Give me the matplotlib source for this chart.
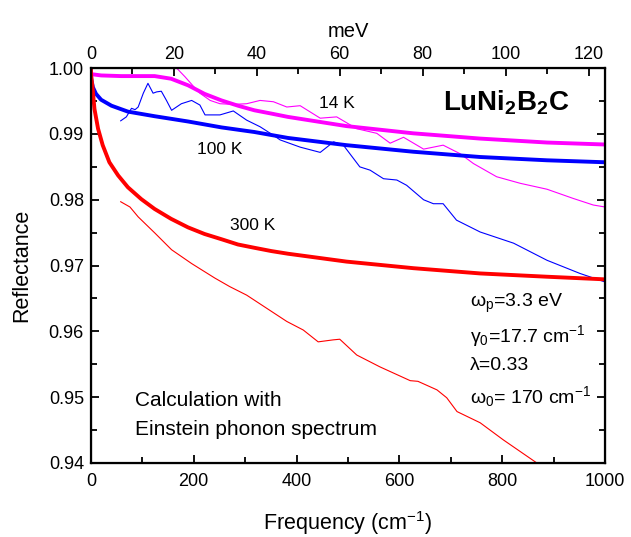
import numpy as np
import matplotlib
matplotlib.use("Agg")
import matplotlib.pyplot as plt
from matplotlib.ticker import MultipleLocator, FormatStrFormatter

plt.rcParams['font.family'] = ['Liberation Sans', 'DejaVu Sans']
plt.rcParams['mathtext.fontset'] = 'custom'
plt.rcParams['mathtext.rm'] = 'Liberation Sans'
plt.rcParams['mathtext.it'] = 'Liberation Sans:italic'
plt.rcParams['mathtext.bf'] = 'Liberation Sans:bold'

# calculated curves (thick)
calc14_x = [0, 0.6, 20, 59, 124, 156, 189, 221, 254, 286, 318, 351, 383, 497, 627, 757, 887, 1000]
calc14_y = [0.9998, 0.9991, 0.9989, 0.9988, 0.9988, 0.9984, 0.9974, 0.9961, 0.9951, 0.9943,
            0.9936, 0.9931, 0.9926, 0.9912, 0.9901, 0.9893, 0.9887, 0.9884]
calc100_x = [0, 0.6, 4, 10, 20, 40, 72, 124, 189, 254, 318, 383, 497, 627, 757, 887, 1000]
calc100_y = [0.9998, 0.9984, 0.9971, 0.9961, 0.9952, 0.9943, 0.9934, 0.9927, 0.9919, 0.9910,
             0.9903, 0.9894, 0.9883, 0.9873, 0.9865, 0.9860, 0.9857]
calc300_x = [0, 0.6, 4, 7, 14, 23, 36, 53, 72, 98, 124, 156, 189, 221, 254, 286, 318, 351, 383,
             497, 627, 757, 887, 1000]
calc300_y = [1.0, 0.9989, 0.9964, 0.9938, 0.9908, 0.9883, 0.9857, 0.9837, 0.9819, 0.9801,
             0.9786, 0.9771, 0.9758, 0.9748, 0.9740, 0.9732, 0.9727, 0.9722, 0.9718, 0.9706,
             0.9696, 0.9688, 0.9683, 0.9679]

# measured curves (thin)
exp14_x = [160, 167, 183, 200, 212, 232, 251, 277, 303, 329, 355, 381, 407, 446, 478, 517, 556,
           582, 608, 647, 685, 718, 744, 789, 835, 887, 938, 977, 1000]
exp14_y = [1.001, 1.0, 0.9987, 0.9972, 0.9962, 0.9951, 0.9946, 0.9945, 0.9946, 0.9951, 0.9949,
           0.9941, 0.9943, 0.9924, 0.9926, 0.9908, 0.9901, 0.9886, 0.9895, 0.9877, 0.9883,
           0.9870, 0.9855, 0.9835, 0.9825, 0.9816, 0.9802, 0.9792, 0.9789]
exp100_x = [58, 69, 79, 86, 92, 102, 111, 121, 128, 137, 147, 157, 176, 196, 212, 222, 251, 277,
            303, 329, 355, 368, 407, 446, 472, 491, 523, 543, 569, 595, 614, 647, 666, 685, 711,
            757, 822, 887, 951, 1000]
exp100_y = [0.9920, 0.9926, 0.9939, 0.9937, 0.9941, 0.9962, 0.9977, 0.9962, 0.9964, 0.9965,
            0.9951, 0.9936, 0.9946, 0.9951, 0.9944, 0.9929, 0.9929, 0.9935, 0.9921, 0.9911,
            0.9898, 0.9891, 0.9880, 0.9872, 0.9888, 0.9883, 0.9850, 0.9845, 0.9832, 0.9830,
            0.9822, 0.9800, 0.9794, 0.9794, 0.9769, 0.9751, 0.9734, 0.9708, 0.9688, 0.9675]
exp300_x = [58, 76, 92, 125, 157, 196, 241, 270, 303, 342, 381, 413, 442, 471, 484, 517, 562,
            621, 636, 673, 692, 712, 757, 802, 867, 900]
exp300_y = [0.9797, 0.9789, 0.9774, 0.9749, 0.9724, 0.9703, 0.9681, 0.9668, 0.9655, 0.9635,
            0.9615, 0.9602, 0.9584, 0.9587, 0.9588, 0.9564, 0.9546, 0.9525, 0.9524, 0.9511,
            0.9499, 0.9478, 0.9461, 0.9435, 0.9400, 0.9380]

CM_PER_MEV = 8.0655

fig = plt.figure(figsize=(6.31, 5.37), dpi=100)
ax = fig.add_axes([0.144, 0.138, 0.815, 0.735])

ax.plot(exp14_x, exp14_y, color='#ff00ff', lw=0.8)
ax.plot(exp100_x, exp100_y, color='#0000ff', lw=0.8)
ax.plot(exp300_x, exp300_y, color='#ff0000', lw=0.8)
ax.plot(calc14_x, calc14_y, color='#ff00ff', lw=2.8)
ax.plot(calc100_x, calc100_y, color='#0000ff', lw=2.8)
ax.plot(calc300_x, calc300_y, color='#ff0000', lw=2.8)

ax.set_xlim(0, 1000)
ax.set_ylim(0.94, 1.00)
ax.xaxis.set_major_locator(MultipleLocator(200))
ax.xaxis.set_minor_locator(MultipleLocator(100))
ax.yaxis.set_major_locator(MultipleLocator(0.01))
ax.yaxis.set_minor_locator(MultipleLocator(0.005))
ax.yaxis.set_major_formatter(FormatStrFormatter('%.2f'))
ax.tick_params(which='both', direction='in', right=True, labelsize=13, width=1.3, pad=5)
ax.tick_params(axis='x', pad=7)
ax.tick_params(which='major', length=6)
ax.tick_params(which='minor', length=4)
for s in ax.spines.values():
    s.set_linewidth(1.6)

ax.set_xlabel('Frequency (cm$^{\\mathregular{-1}}$)', fontsize=15.5, labelpad=14)
ax.set_ylabel('Reflectance', fontsize=15.5, labelpad=12)

top = ax.twiny()
top.set_xlim(0, 1000 / CM_PER_MEV)
top.xaxis.set_major_locator(MultipleLocator(20))
top.xaxis.set_minor_locator(MultipleLocator(10))
top.tick_params(which='both', direction='in', labelsize=13, width=1.3, pad=4)
top.tick_params(which='major', length=6)
top.tick_params(which='minor', length=4)
top.set_xlabel('meV', fontsize=14.5, labelpad=6)

ax.text(444, 0.9939, '14 K', fontsize=12.5)
ax.text(206, 0.9869, '100 K', fontsize=12.5)
ax.text(270, 0.9754, '300 K', fontsize=12.5)
ax.text(684, 0.9935, 'LuNi$_\\mathbf{2}$B$_\\mathbf{2}$C', fontsize=20, fontweight='bold')

params = ['ω$_\\mathregular{p}$=3.3 eV',
          'γ$_\\mathregular{0}$=17.7 cm$^{\\mathregular{-1}}$',
          'λ=0.33',
          'ω$_\\mathregular{0}$= 170 cm$^{\\mathregular{-1}}$']
params_y = [0.9637, 0.9584, 0.9541, 0.9491]
for p, py in zip(params, params_y):
    ax.text(737, py, p, fontsize=14)

ax.text(86, 0.9487, 'Calculation with', fontsize=15)
ax.text(86, 0.9442, 'Einstein phonon spectrum', fontsize=15)

fig.savefig('out.png', dpi=100)
